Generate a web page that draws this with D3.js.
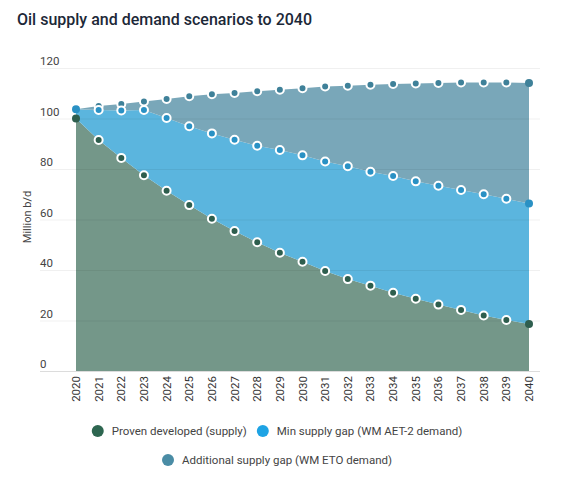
<!DOCTYPE html>
<html>
<head>
<meta charset="utf-8">
<script src="https://cdn.jsdelivr.net/npm/d3@7"></script>
<style>
  body { margin: 0; background: #fff; }
  svg { font-family: Roboto, "Noto Sans", sans-serif; }
</style>
</head>
<body>
<svg id="canvas" width="580" height="480"></svg>
<script>
// years on the x axis
let years = d3.range(2020, 2041)

// million b/d
let provenSupply = [100, 91.5, 84.4, 77.5, 71.4, 65.7, 60.3, 55.4, 51.0, 46.8, 43.3,
    39.6, 36.4, 33.8, 31.0, 28.6, 26.3, 24.2, 22.0, 20.2, 18.6]
let aet2Demand = [103.7, 103.4, 103.2, 103.4, 100.2, 96.9, 94.1, 91.6, 89.2, 87.5, 85.4,
    83.0, 81.1, 78.9, 77.2, 75.1, 73.4, 71.7, 70.0, 68.2, 66.3]
let etoDemand = [103.7, 105.0, 105.7, 106.7, 107.7, 108.8, 109.6, 110.1, 110.8, 111.4, 112.0,
    112.7, 113.0, 113.4, 113.7, 113.9, 114.1, 114.3, 114.3, 114.3, 114.1]

let yTicks = [0, 20, 40, 60, 80, 100, 120]

let seriesNames = ['Proven developed (supply)', 'Min supply gap (WM AET-2 demand)', 'Additional supply gap (WM ETO demand)']
let legendColors = ['#2d6650', '#1ea3e4', '#4a8ca5']
let areaColors = ['#749789', '#5bb5de', '#79a7b9']
let dotColors = ['#2e5e4e', '#2a91c4', '#3f8199']

let canvas = d3.select('#canvas')

canvas.append('text')
    .attr('x', 17)
    .attr('y', 25)
    .attr('font-size', 16)
    .attr('font-weight', 500)
    .attr('fill', '#1c2838')
    .text('Oil supply and demand scenarios to 2040')

let xScale = d3.scaleLinear().domain([2020, 2040]).range([76, 529])
let yScale = d3.scaleLinear().domain([0, 120]).range([371, 68])

// stacked bands: 0 -> supply, supply -> AET-2, AET-2 -> ETO
let lower = [years.map(() => 0), provenSupply, aet2Demand]
let upper = [provenSupply, aet2Demand, etoDemand]

let area = d3.area()
    .x((d) => xScale(d.year))
    .y0((d) => yScale(d.lo))
    .y1((d) => yScale(d.hi))

upper.forEach((ser, i) => {
    let pts = years.map((yr, j) => ({ year: yr, lo: lower[i][j], hi: ser[j] }))
    canvas.append('path')
        .attr('d', area(pts))
        .attr('fill', areaColors[i])
})

// gridlines + y labels
let grid = canvas.append('g')
grid.selectAll('line')
    .data(yTicks)
    .enter()
    .append('line')
    .attr('x1', 40)
    .attr('x2', 540)
    .attr('y1', (t) => yScale(t) + 0.5)
    .attr('y2', (t) => yScale(t) + 0.5)
    .attr('stroke', (t) => t === 0 ? '#dcdcdc' : 'rgba(0,0,0,0.06)')
    .attr('stroke-width', 1)

grid.selectAll('text')
    .data(yTicks)
    .enter()
    .append('text')
    .attr('x', 40)
    .attr('y', (t) => yScale(t) - 3)
    .attr('font-size', 11.5)
    .attr('fill', '#444')
    .text((t) => t)

canvas.append('text')
    .attr('transform', 'translate(31,217) rotate(-90)')
    .attr('text-anchor', 'middle')
    .attr('font-size', 11)
    .attr('fill', '#444')
    .text('Million b/d')

// x labels, rotated
canvas.append('g')
    .selectAll('text')
    .data(years)
    .enter()
    .append('text')
    .attr('transform', (yr) => 'translate(' + (xScale(yr) + 4) + ',376) rotate(-90)')
    .attr('text-anchor', 'end')
    .attr('font-size', 11.5)
    .attr('fill', '#333')
    .text((yr) => yr)

// dots, top series first so lower series sit above
let allSeries = [provenSupply, aet2Demand, etoDemand]
let dotOrder = [2, 1, 0]
dotOrder.forEach((i) => {
    canvas.append('g')
        .selectAll('circle')
        .data(allSeries[i].map((v, j) => ({ year: years[j], v: v, j: j })))
        .enter()
        .filter((d) => !(i === 2 && d.j === 0))
        .append('circle')
        .attr('cx', (d) => xScale(d.year))
        .attr('cy', (d) => yScale(d.v))
        .attr('r', 4)
        .attr('fill', dotColors[i])
        .attr('stroke', '#fff')
        .attr('stroke-width', (d) => (d.j === 0 || d.j === years.length - 1) ? 0 : 2)
})

// legend, two centred rows
let legendRows = [[0, 1], [2]]
let rowY = [431, 460]
legendRows.forEach((row, r) => {
    let g = canvas.append('g')
    let x = 0
    row.forEach((i) => {
        g.append('circle')
            .attr('cx', x + 6)
            .attr('cy', rowY[r])
            .attr('r', 6)
            .attr('fill', legendColors[i])
        let t = g.append('text')
            .attr('x', x + 20)
            .attr('y', rowY[r] + 4)
            .attr('font-size', 11.5)
            .attr('fill', '#444')
            .text(seriesNames[i])
        x += 20 + t.node().getComputedTextLength() + 10
    })
    let w = x - 10
    g.attr('transform', 'translate(' + (277 - w / 2) + ',0)')
})
</script>
</body>
</html>
